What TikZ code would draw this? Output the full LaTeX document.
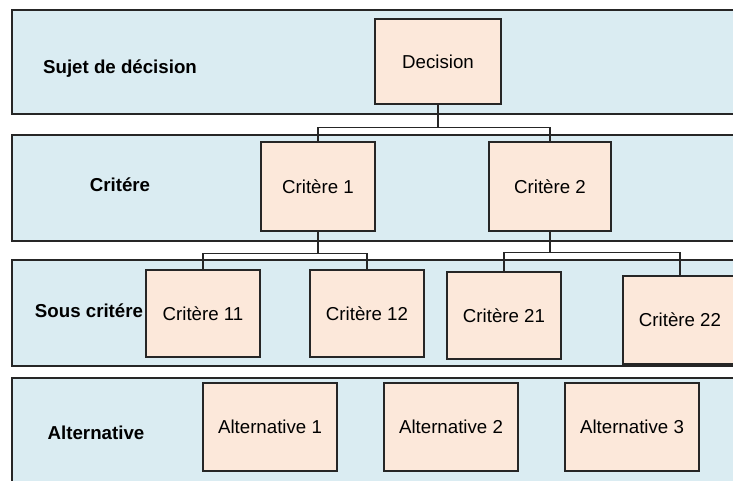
\documentclass[tikz,border=0pt]{standalone}
\usepackage{fontspec}
\setmainfont{Liberation Sans}
\usepackage{xcolor}
\usepackage{tikz}
\usetikzlibrary{positioning}
\definecolor{bandblue}{RGB}{218,236,242}
\definecolor{boxpeach}{RGB}{252,232,218}

\begin{document}
\begin{tikzpicture}[
  x=1pt, y=-1pt,
  every node/.style={font=\fontsize{18.7}{22}\selectfont},
  band/.style={draw=black!85, fill=bandblue, line width=1.3pt},
  box/.style={draw=black!85, rectangle, fill=boxpeach, line width=1.3pt,
              inner sep=0pt, minimum width=114pt, minimum height=88pt, align=center},
  lvl/.style={font=\fontsize{18.7}{22}\selectfont\bfseries},
  link/.style={draw=black!85, line width=1.3pt}
]

\useasboundingbox (0,0) rectangle (733,481);
\clip (0,0) rectangle (733,481);

% ---- Row positions ----
\def\yA{61.5}   % decision row
\def\yB{186.5}  % criteria row
\def\yC{313.5}  % sub-criteria row
\def\yD{427}    % alternatives row

% ---- Bands ----
\draw[band] (12,10)  rectangle (760,114);
\draw[band] (12,135) rectangle (760,241);
\draw[band] (12,260) rectangle (760,366);
\draw[band] (12,378) rectangle (760,500);

% ---- Level labels ----
\node[lvl] (lsujet) at (120,69)  {Sujet de décision};
\node[lvl] (lcrit)  at (120,185) {Critére};
\node[lvl] (lsous)  at (89,311)  {Sous critére};
\node[lvl] (lalt)   at (96,433)  {Alternative};

% ---- Decision ----
\node[box, minimum width=126pt, minimum height=85pt] (dec) at (438,\yA) {Decision};

% ---- Criteria ----
\node[box, minimum height=89pt] (c1) at (318,\yB) {Critère 1};
\node[box, minimum width=122pt, minimum height=89pt] (c2) at (550,\yB) {Critère 2};

% ---- Sub-criteria ----
\node[box, minimum height=87pt] (c11) at (203,\yC) {Critère 11};
\node[box, minimum height=87pt] (c12) at (367,\yC) {Critère 12};
\node[box, minimum height=87pt] (c21) at (504,315.5) {Critère 21};
\node[box] (c22) at (680,320) {Critère 22};

% ---- Alternatives ----
\node[box, minimum width=134pt] (a1) at (270,\yD) {Alternative 1};
\node[box, minimum width=134pt] (a2) at (451,\yD) {Alternative 2};
\node[box, minimum width=134pt] (a3) at (632,\yD) {Alternative 3};

% ---- Connectors ----
\draw[link] (dec.south) -- ++(0,23) -| (c1.north);
\draw[link] (dec.south) -- ++(0,23) -| (c2.north);
\draw[link] (c1.south) -- ++(0,22) -| (c11.north);
\draw[link] (c1.south) -- ++(0,22) -| (c12.north);
\draw[link] (c2.south) -- ++(0,21) -| (c21.north);
\draw[link] (c2.south) -- ++(0,21) -| (c22.north);

\end{tikzpicture}
\end{document}
